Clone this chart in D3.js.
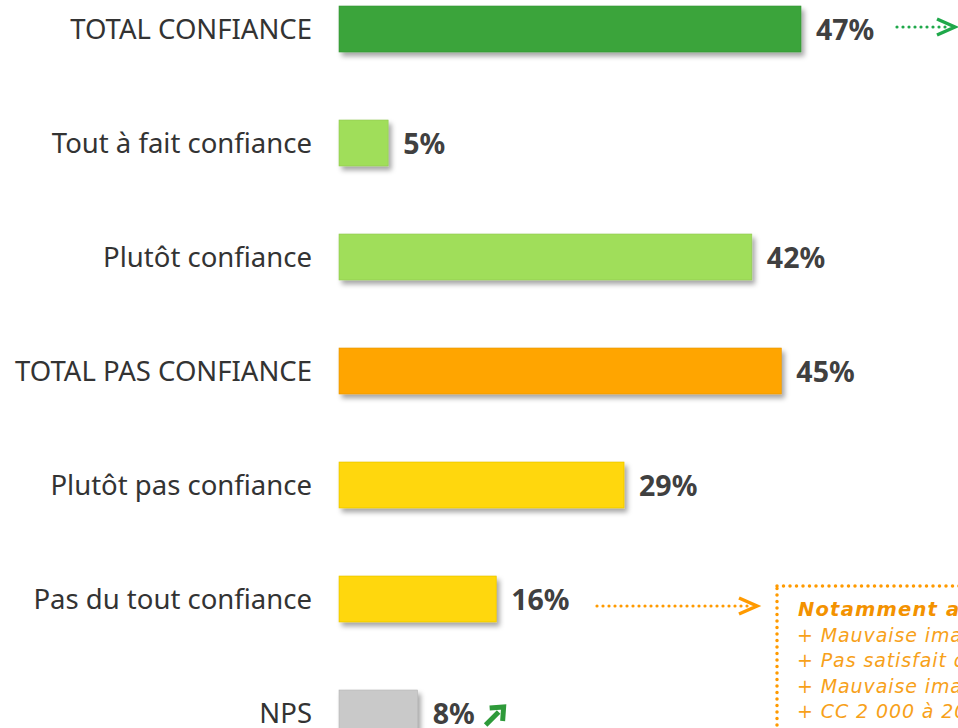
<!DOCTYPE html>
<html>
<head>
<meta charset="utf-8">
<script src="https://cdn.jsdelivr.net/npm/d3@7"></script>
<style>
  body { margin: 0; background: #fff; overflow: hidden; }
</style>
</head>
<body>
<div id="chart"></div>
<script>
// data
const categories = ["TOTAL CONFIANCE", "Tout à fait confiance", "Plutôt confiance",
  "TOTAL PAS CONFIANCE", "Plutôt pas confiance", "Pas du tout confiance", "NPS"];
const values = [47, 5, 42, 45, 29, 16, 8];
const barColors = ["#3ba43b", "#a0de5a", "#a0de5a", "#ffa506", "#ffd707", "#ffd707", "#c9c9c9"];
const boxTitle = "Notamment auprès des :";
const boxLines = ["+ Mauvaise image de la profession", "+ Pas satisfait de leur expert-comptable",
  "+ Mauvaise image de leur expert-comptable", "+ CC 2 000 à 20 000 €"];

const width = 958, height = 728;
const margin = {top: 6, left: 339};
const step = 114, barH = 46;

const svg = d3.select("#chart")
  .append("svg")
    .attr("width", width)
    .attr("height", height);

// drop shadow for the bars
const defs = svg.append("defs");
const f = defs.append("filter").attr("id", "shadow")
  .attr("x", "-10%").attr("y", "-20%").attr("width", "130%").attr("height", "160%");
f.append("feDropShadow")
  .attr("dx", 3).attr("dy", 4).attr("stdDeviation", 2.5)
  .attr("flood-color", "#000").attr("flood-opacity", 0.35);

// scales
const x = d3.scaleLinear()
  .domain([0, 47])
  .range([0, 462]);

const y = d3.scaleBand()
  .domain(categories)
  .range([margin.top, margin.top + step * categories.length - (step - barH)])
  .paddingInner((step - barH) / step)
  .paddingOuter(0);

const g = svg.append("g");

// bars
g.selectAll("rect.bar")
  .data(categories)
  .join("rect")
    .attr("class", "bar")
    .attr("x", margin.left)
    .attr("y", d => y(d))
    .attr("width", (d, i) => x(values[i]))
    .attr("height", y.bandwidth())
    .style("fill", (d, i) => barColors[i])
    .style("stroke", (d, i) => d3.color(barColors[i]).darker(0.3))
    .style("stroke-width", 0.6)
    .attr("filter", "url(#shadow)");

// category labels
g.selectAll("text.cat")
  .data(categories)
  .join("text")
    .attr("class", "cat")
    .attr("x", 312)
    .attr("y", d => y(d) + y.bandwidth() / 2)
    .attr("dy", "0.36em")
    .attr("text-anchor", "end")
    .style("font-family", "'Noto Sans', sans-serif")
    .style("font-size", "27.5px")
    .style("fill", "#333")
    .text(d => d);

// value labels
g.selectAll("text.val")
  .data(categories)
  .join("text")
    .attr("class", "val")
    .attr("x", (d, i) => margin.left + x(values[i]) + 15)
    .attr("y", d => y(d) + y.bandwidth() / 2)
    .attr("dy", "0.37em")
    .style("font-family", "'Noto Sans', sans-serif")
    .style("font-weight", "bold")
    .style("font-size", "28.5px")
    .style("fill", "#404040")
    .text((d, i) => values[i] + "%");

// dotted arrows
function dottedArrow(x1, x2, yy, color) {
  g.append("line")
    .attr("x1", x1).attr("x2", x2 - 6)
    .attr("y1", yy).attr("y2", yy)
    .style("stroke", color)
    .style("stroke-width", 3.2)
    .style("stroke-linecap", "round")
    .style("stroke-dasharray", "0 6");
  g.append("path")
    .attr("d", `M${x2 - 18},${yy - 8} L${x2},${yy} L${x2 - 18},${yy + 8}`)
    .style("fill", "none")
    .style("stroke", color)
    .style("stroke-width", 3.5);
}
const yTop = y(categories[0]) + y.bandwidth() / 2 - 2;
dottedArrow(897, 955, yTop, "#1fa84a");
const yPdt = y(categories[5]) + y.bandwidth() / 2 + 7;
dottedArrow(597, 757, yPdt, "#ff9a00");

// green up arrow next to NPS
const npsX = margin.left + x(values[6]) + 68;
const npsY = y(categories[6]) + y.bandwidth() / 2 + 12;
g.append("path")
  .attr("d", `M${npsX},${npsY} L${npsX + 13},${npsY - 13}`)
  .style("stroke", "#2e9a3a").style("stroke-width", 5);
g.append("path")
  .attr("d", `M${npsX + 4},${npsY - 17} L${npsX + 18},${npsY - 18} L${npsX + 17},${npsY - 4}`)
  .style("fill", "none").style("stroke", "#2e9a3a").style("stroke-width", 5);

// dotted note box
const boxX = 777, boxY = 586;
g.append("rect")
  .attr("x", boxX).attr("y", boxY)
  .attr("width", 400).attr("height", 300)
  .style("fill", "none")
  .style("stroke", "#ff9a00")
  .style("stroke-width", 3.5)
  .style("stroke-linecap", "round")
  .style("stroke-dasharray", "0 6.5");

g.append("text")
  .attr("x", boxX + 21).attr("y", boxY + 30)
  .style("font-family", "'DejaVu Sans', sans-serif")
  .style("font-weight", "bold")
  .style("font-style", "italic")
  .style("font-size", "19.5px")
  .style("letter-spacing", "1.2px")
  .style("fill", "#f39200")
  .text(boxTitle);

g.selectAll("text.note")
  .data(boxLines)
  .join("text")
    .attr("class", "note")
    .attr("x", boxX + 20)
    .attr("y", (d, i) => boxY + 56 + i * 25.3)
    .style("font-family", "'DejaVu Sans', sans-serif")
    .style("font-style", "italic")
    .style("font-size", "19px")
    .style("letter-spacing", "0.9px")
    .style("fill", "#f7a11a")
    .text(d => d);
</script>
</body>
</html>
